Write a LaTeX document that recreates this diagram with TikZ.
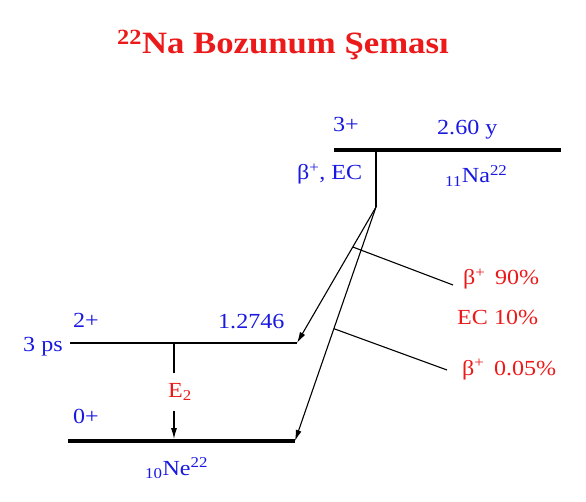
\documentclass[tikz,border=0pt]{standalone}
\usepackage{fontspec}
\setmainfont{Liberation Serif}[FakeStretch=1.12]
\usetikzlibrary{arrows.meta,calc}

\definecolor{lvlblue}{RGB}{25,25,225}
\definecolor{decred}{RGB}{235,25,25}

\tikzset{
	lbl/.style={inner sep=0pt, anchor=base west, text=lvlblue, font=\fontsize{21.5}{26}\selectfont},
	rlbl/.style={lbl, text=decred},
	level/.style={line width=1.4pt},
	mainlevel/.style={line width=4pt},
	decay/.style={-{Latex[length=11pt,width=6pt]}, line width=1.1pt},
}

\begin{document}
\begin{tikzpicture}[x=1pt,y=-1pt]
		\useasboundingbox (0,0) rectangle (586,502);

		% title
		\node[inner sep=0pt, anchor=base west, text=decred, font=\fontsize{31}{37}\selectfont\bfseries]
			(title) at (117,54) {\textsuperscript{22}Na Bozunum Şeması};

		% levels
		\coordinate (na-l) at (334,150);
		\coordinate (na-r) at (561,150);
		\coordinate (na-t) at (376,150);
		\coordinate (na-b) at (376,207);
		\coordinate (ex-l) at (70,343);
		\coordinate (ex-r) at (297,343);
		\coordinate (gs-l) at (68,441);
		\coordinate (gs-r) at (295,441);
		\coordinate (g-t) at (174,343);
		\coordinate (g-m1) at (174,373);
		\coordinate (g-m2) at (174,411);
		\coordinate (g-b) at (174,439);

		\coordinate (b1) at ($(na-b)!0.294!(ex-r)$);
		\coordinate (b2) at ($(na-b)!0.52!(gs-r)$);

		% labels
		\node[lbl] (na-spin) at (333,132) {3+};
		\node[lbl] (na-half) at (437,135) {2.60 y};
		\node[lbl] (na-mode) at (297,180) {β\textsuperscript{+}, EC};
		\node[lbl] (na-name) at (445,183) {\textsubscript{11}Na\textsuperscript{22}};
		\node[lbl] (ex-spin) at (73,328) {2+};
		\node[lbl] (ex-en) at (218,329) {1.2746};
		\node[lbl] (ex-life) at (23,352) {3 ps};
		\node[lbl] (gs-spin) at (73,423) {0+};
		\node[lbl] (ne-name) at (145,475) {\textsubscript{10}Ne\textsuperscript{22}};
		\node[rlbl] (e2) at (168,397) {E\textsubscript{2}};
		\node[rlbl] (b90) at (463,285) {β\textsuperscript{+}\, 90\%};
		\node[rlbl] (ec10) at (457,325) {EC 10\%};
		\node[rlbl] (b005) at (462,375) {β\textsuperscript{+}\, 0.05\%};

		\draw[mainlevel] (na-l) -- (na-r);
		\draw[level] (ex-l) -- (ex-r);
		\draw[mainlevel] (gs-l) -- (gs-r);

		% transitions
		\draw[line width=1.1pt] (na-t) -- (na-b);
		\draw[decay] (na-b) -- (ex-r);
		\draw[decay] (na-b) -- (gs-r);
		\draw[line width=1.1pt] (g-t) -- (g-m1);
		\draw[decay] (g-m2) -- (g-b);

		\draw[line width=1.1pt]
			(b1) -- ([xshift=-10pt]b90.base west)
			(b2) -- ([xshift=-15pt,yshift=5pt]b005.base west)
		;

\end{tikzpicture}
\end{document}
